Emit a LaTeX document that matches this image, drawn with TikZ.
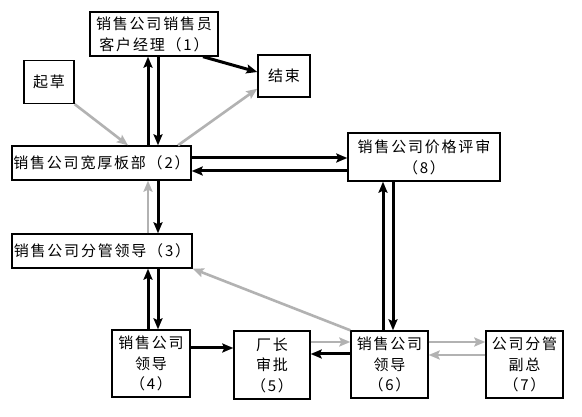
\documentclass[tikz,border=0pt]{standalone}
\usepackage{fontspec}
\newfontfamily\cjk[LetterSpace=12]{Noto Sans CJK SC}
\usetikzlibrary{arrows.meta,calc}
\begin{document}
\begin{tikzpicture}[x=1pt,y=-1pt,
  box/.style={draw=black,line width=1.4pt,fill=white,inner sep=0pt,align=center,
    font=\cjk\fontsize{15}{21}\selectfont},
  box3/.style={box,font=\cjk\fontsize{15}{20.5}\selectfont},
  blk/.style={line width=3pt,black,-{Stealth[length=11pt,width=9pt,inset=2pt]}},
  gry/.style={line width=2.6pt,gray!60,-{Stealth[length=11pt,width=9pt,inset=2pt]}},
]
\useasboundingbox[fill=white] (0,0) rectangle (582,417);

\node[box,minimum width=128pt,minimum height=44pt] (n1) at (154,34) {销售公司销售员\\客户经理（1）};
\node[box,minimum width=50pt,minimum height=43pt] (qc) at (49,82) {起草};
\node[box,minimum width=52pt,minimum height=42pt] (js) at (284,76) {结束};
\node[box,minimum width=179pt,minimum height=34pt] (n2) at (101.5,163) {销售公司宽厚板部（2）};
\node[box,minimum width=180pt,minimum height=34pt] (n3) at (102,251) {销售公司分管领导（3）};
\node[box,minimum width=152pt,minimum height=48pt] (n8) at (424,157) {销售公司价格评审\\（8）};
\node[box3,minimum width=78pt,minimum height=67pt] (n4) at (151,363.5) {销售公司\\领导\\（4）};
\node[box3,minimum width=76pt,minimum height=68pt] (n5) at (272,365) {厂长\\审批\\（5）};
\node[box3,minimum width=77pt,minimum height=67pt] (n6) at (389.5,364.5) {销售公司\\领导\\（6）};
\node[box3,minimum width=77pt,minimum height=67pt] (n7) at (524.5,364.5) {公司分管\\副总\\（7）};

\coordinate (xa) at (148,0);
\coordinate (xb) at (158,0);
\coordinate (xc) at (128,0);
\coordinate (xd) at (178,0);
\coordinate (xe) at (203,0);
\coordinate (xf) at (383,0);
\coordinate (xg) at (393,0);
\coordinate (ya) at (0,158);
\coordinate (yb) at (0,171);
\coordinate (yc) at (0,348);
\coordinate (yd) at (0,342);
\coordinate (ye) at (0,354);
\coordinate (yf) at (0,355);

% 1 <-> 2
\draw[blk] (n2.north -| xa) -- (n1.south -| xa);
\draw[blk] (n1.south -| xb) -- (n2.north -| xb);
% 2 <-> 3
\draw[gry] (n3.north -| xa) -- (n2.south -| xa);
\draw[blk] (n2.south -| xb) -- (n3.north -| xb);
% 3 <-> 4
\draw[blk] (n4.north -| xa) -- (n3.south -| xa);
\draw[blk] (n3.south -| xb) -- (n4.north -| xb);
% draft, end
\draw[gry] (qc.south east) -- (n2.north -| xc);
\draw[gry] (n2.north -| xd) -- ($(js.south west)+(0,-9)$);
\draw[blk] (n1.south -| xe) -- ($(js.west)+(0,-4)$);
% 2 <-> 8
\draw[blk] (n2.east |- ya) -- (n8.west |- ya);
\draw[blk] (n8.west |- yb) -- (n2.east |- yb);
% 8 <-> 6
\draw[blk] (n6.north -| xf) -- (n8.south -| xf);
\draw[blk] (n8.south -| xg) -- (n6.north -| xg);
% 6 -> 3
\draw[gry] (n6.north west) -- (n3.south east);
% 4 -> 5
\draw[blk] (n4.east |- yc) -- (n5.west |- yc);
% 5 <-> 6
\draw[gry] (n5.east |- yd) -- (n6.west |- yd);
\draw[blk] (n6.west |- ye) -- (n5.east |- ye);
% 6 <-> 7
\draw[gry] (n6.east |- yd) -- (n7.west |- yd);
\draw[gry] (n7.west |- yf) -- (n6.east |- yf);
\end{tikzpicture}
\end{document}
